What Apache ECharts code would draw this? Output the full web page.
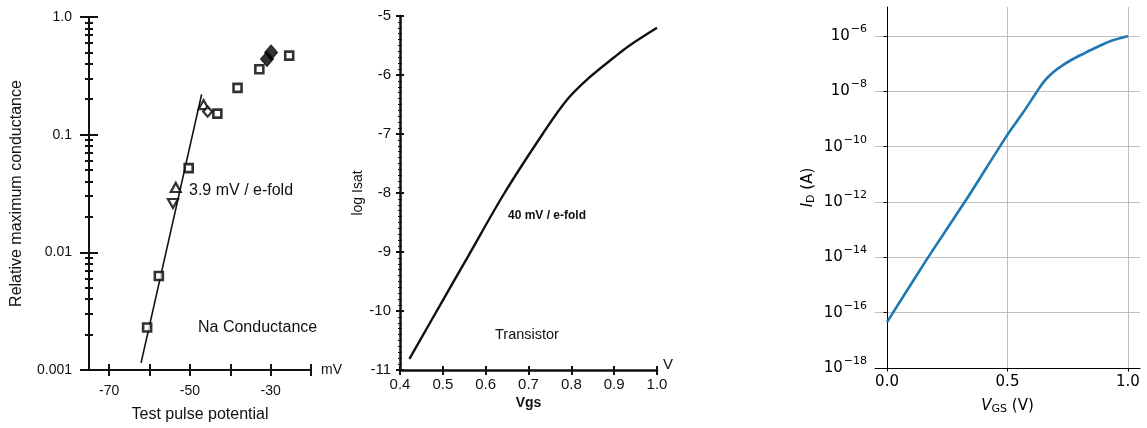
<!DOCTYPE html>
<html><head><meta charset="utf-8">
<script src="https://cdn.jsdelivr.net/npm/echarts@6/dist/echarts.min.js"></script>
<style>html,body{margin:0;padding:0;background:#fff}#c{width:1147px;height:428px}</style>
</head><body><div id="c"></div>
<script>
// ---------- Panel 1: Na conductance ----------
const naSquareV = [-60.6, -57.7, -50.3, -43.2, -38.2, -32.8, -25.4];
const naSquareG = [0.0023, 0.0063, 0.052, 0.151, 0.25, 0.36, 0.47];
const naTriUpV = [-53.5, -46.6];
const naTriUpG = [0.0356, 0.18];
const naTriDownV = [-54.2];
const naTriDownG = [0.026];
const naDiamondV = [-45.6];
const naDiamondG = [0.157];
const naFilledV = [-30.9, -29.9];
const naFilledG = [0.44, 0.50];
const naFitV = [-62.1, -47.1];
const naFitG = [0.00115, 0.22];
const naXTicks = [-70, -60, -50, -40, -30, -20];
const naXLabels = [-70, -50, -30];
const naYMajor = [0.001, 0.01, 0.1, 1];
const naYMajorLabels = ['0.001', '0.01', '0.1', '1.0'];
const naYMinor = [0.002,0.003,0.004,0.005,0.006,0.007,0.008,0.009,
                  0.02,0.03,0.04,0.05,0.06,0.07,0.08,0.09,
                  0.2,0.3,0.4,0.5,0.6,0.7,0.8,0.9];
// ---------- Panel 2: Transistor ----------
const trVgs  = [0.422, 0.5, 0.56, 0.644, 0.733, 0.79, 0.841, 0.9, 0.936, 1.0];
const trLogI = [-10.81, -9.82, -9.06, -8.0, -7.0, -6.42, -6.05, -5.70, -5.50, -5.2];
// ---------- Panel 3: MOSFET I_D ----------
const mosVgs = [0.0, 0.171, 0.327, 0.498, 0.566, 0.61, 0.635, 0.66, 0.691, 0.73, 0.774, 0.815, 0.857, 0.926, 1.0];
const mosId  = [4.57e-17, 1.02e-14, 1.15e-12, 2.57e-10, 1.78e-9, 6.76e-9, 1.45e-8, 2.75e-8, 5.0e-8, 8.9e-8, 1.51e-7, 2.29e-7, 3.47e-7, 6.46e-7, 1.0e-6];
const mosXTicks = [0.0, 0.5, 1.0];
const mosYTicks = [1e-18, 1e-16, 1e-14, 1e-12, 1e-10, 1e-8, 1e-6];

const zip = (a, b) => a.map((v, i) => [v, b[i]]);
const f1 = '"Liberation Sans", Arial, sans-serif';
const f3 = '"DejaVu Sans", sans-serif';
const ink = '#111';

const chart = echarts.init(document.getElementById('c'), null, {renderer: 'canvas'});

const g0 = {left: 89, right: 836, top: 17, bottom: 56};
const g1 = {left: 400, right: 490, top: 16, bottom: 58};
const g2 = {left: 875, right: 7, top: 7, bottom: 60};

function naLabel(v) {
  const i = naYMajor.findIndex(t => Math.abs(Math.log10(t) - Math.log10(v)) < 1e-6);
  return i >= 0 ? naYMajorLabels[i] : '';
}
const noLine = {show: false};
const naYBase = {type: 'log', gridIndex: 0, min: 0.001, max: 1, position: 'left', offset: 0, splitLine: noLine};

const option = {
  animation: false,
  backgroundColor: '#fff',
  grid: [
    Object.assign({containLabel: false}, g0),
    Object.assign({containLabel: false}, g1),
    Object.assign({containLabel: false}, g2)
  ],
  xAxis: [
    {type: 'value', gridIndex: 0, min: -75, max: -20, position: 'bottom',
     axisLine: {show: true, lineStyle: {color: ink, width: 2}},
     axisTick: {show: true, customValues: naXTicks, length: 6, lineStyle: {color: ink, width: 2}},
     axisLabel: {customValues: naXLabels, margin: 14, fontSize: 14, fontFamily: f1, color: ink},
     splitLine: noLine,
     name: 'mV', nameLocation: 'end', nameGap: 10,
     nameTextStyle: {fontSize: 14, fontFamily: f1, color: ink}},
    {type: 'value', gridIndex: 0, min: -75, max: -20, position: 'bottom',
     axisLine: noLine,
     axisTick: {show: true, inside: true, customValues: naXTicks, length: 6, lineStyle: {color: ink, width: 2}},
     axisLabel: {show: false}, splitLine: noLine,
     name: 'Test pulse potential', nameLocation: 'middle', nameGap: 37,
     nameTextStyle: {fontSize: 16, fontFamily: f1, color: ink}},
    {type: 'value', gridIndex: 1, min: 0.4, max: 1.0, interval: 0.1, position: 'bottom',
     axisLine: {show: true, lineStyle: {color: ink, width: 2.5}},
     axisTick: {show: true, length: 5, lineStyle: {color: ink, width: 2}},
     axisLabel: {margin: 7, fontSize: 15, fontFamily: f1, color: ink, formatter: v => v.toFixed(1)},
     splitLine: noLine,
     name: 'V', nameLocation: 'end', nameGap: 6,
     nameTextStyle: {fontSize: 15, fontFamily: f1, color: ink, verticalAlign: 'bottom', padding: [0,0,-2,0]}},
    {type: 'value', gridIndex: 1, min: 0.4, max: 1.0, interval: 0.1, position: 'bottom',
     axisLine: noLine,
     axisTick: {show: true, inside: true, length: 4, lineStyle: {color: ink, width: 2}},
     axisLabel: {show: false}, splitLine: noLine,
     name: 'Vgs', nameLocation: 'middle', nameGap: 26,
     nameTextStyle: {fontSize: 14, fontWeight: 'bold', fontFamily: f1, color: ink}},
    {type: 'value', gridIndex: 2, min: -0.05, max: 1.05, position: 'bottom',
     axisLine: {show: true, lineStyle: {color: '#000', width: 1}},
     axisTick: {show: true, customValues: mosXTicks, length: 3.5, lineStyle: {color: '#000', width: 1}},
     axisLabel: {customValues: mosXTicks, margin: 7, fontSize: 15, fontFamily: f3, color: '#000', formatter: v => v.toFixed(1)},
     splitLine: {show: true, lineStyle: {color: '#b0b0b0', width: 0.8}},
     name: '{i|V}{s|GS}{n| (V)}', nameLocation: 'middle', nameGap: 29,
     nameTextStyle: {rich: {
       i: {fontSize: 15, fontStyle: 'italic', fontFamily: f3, color: '#000'},
       s: {fontSize: 11, fontFamily: f3, color: '#000', padding: [7, 0, 0, 0]},
       n: {fontSize: 15, fontFamily: f3, color: '#000'}}}}
  ],
  yAxis: [
    Object.assign({}, naYBase, {
      axisLine: {show: true, lineStyle: {color: ink, width: 2}},
      axisTick: {show: true, customValues: naYMajor, length: 9, lineStyle: {color: ink, width: 2}},
      axisLabel: {customValues: naYMajor, margin: 17, fontSize: 14, fontFamily: f1, color: ink, formatter: naLabel},
      name: 'Relative maximum conductance', nameLocation: 'middle', nameGap: 64, nameRotate: 90,
      nameTextStyle: {fontSize: 16, fontFamily: f1, color: ink}}),
    Object.assign({}, naYBase, {
      axisLine: noLine,
      axisTick: {show: true, inside: true, customValues: naYMajor, length: 9, lineStyle: {color: ink, width: 2}},
      axisLabel: {show: false}}),
    Object.assign({}, naYBase, {
      axisLine: noLine,
      axisTick: {show: true, customValues: naYMinor, length: 4, lineStyle: {color: ink, width: 2}},
      axisLabel: {show: false}}),
    Object.assign({}, naYBase, {
      axisLine: noLine,
      axisTick: {show: true, inside: true, customValues: naYMinor, length: 4, lineStyle: {color: ink, width: 2}},
      axisLabel: {show: false}}),
    {type: 'value', gridIndex: 1, min: -11, max: -5, interval: 1, position: 'left',
     axisLine: {show: true, lineStyle: {color: ink, width: 2.5}},
     axisTick: {show: true, length: 4, lineStyle: {color: ink, width: 2}},
     minorTick: {show: true, splitNumber: 10, length: 2, lineStyle: {color: ink, width: 1}},
     axisLabel: {margin: 9, fontSize: 15, fontFamily: f1, color: ink},
     splitLine: noLine,
     name: 'log Isat', nameLocation: 'middle', nameGap: 25, nameRotate: 90,
     nameTextStyle: {fontSize: 14, fontFamily: f1, color: ink}},
    {type: 'value', gridIndex: 1, min: -11, max: -5, interval: 1, position: 'left', offset: 0,
     axisLine: noLine,
     axisTick: {show: true, inside: true, length: 4, lineStyle: {color: ink, width: 2}},
     minorTick: {show: true, splitNumber: 10, length: 2, lineStyle: {color: ink, width: 1}},
     axisLabel: {show: false}, splitLine: noLine},
    {type: 'log', gridIndex: 2, min: 1e-18, max: 1.12e-5, position: 'left',
     axisLine: {show: true, lineStyle: {color: '#000', width: 1}},
     axisTick: {show: true, customValues: mosYTicks, length: 3.5, lineStyle: {color: '#000', width: 1}},
     axisLabel: {customValues: mosYTicks, margin: 8,
       formatter: v => '{a|10}{b|\u2212' + Math.round(-Math.log10(v)) + '}',
       rich: {a: {fontSize: 15, fontFamily: f3, color: '#000'},
              b: {fontSize: 11, fontFamily: f3, color: '#000', padding: [0, 0, 14, 1]}}},
     splitLine: {show: true, lineStyle: {color: '#b0b0b0', width: 0.8}},
     name: '{i|I}{s|D}{n| (A)}', nameLocation: 'middle', nameGap: 58, nameRotate: 90,
     nameTextStyle: {rich: {
       i: {fontSize: 15, fontStyle: 'italic', fontFamily: f3, color: '#000'},
       s: {fontSize: 11, fontFamily: f3, color: '#000', padding: [7, 0, 0, 0]},
       n: {fontSize: 15, fontFamily: f3, color: '#000'}}}}
  ],
  series: [
    {type: 'line', xAxisIndex: 0, yAxisIndex: 0, data: zip(naFitV, naFitG), showSymbol: false,
     lineStyle: {color: ink, width: 1.6}, z: 1},
    {type: 'scatter', xAxisIndex: 0, yAxisIndex: 0, data: zip(naSquareV, naSquareG), symbol: 'rect', symbolSize: 8,
     itemStyle: {color: '#fff', borderColor: '#000', borderWidth: 2.6}, z: 3},
    {type: 'scatter', xAxisIndex: 0, yAxisIndex: 0, data: zip(naTriUpV, naTriUpG), symbol: 'triangle', symbolSize: [10, 9],
     itemStyle: {color: '#fff', borderColor: '#000', borderWidth: 2.2}, z: 3},
    {type: 'scatter', xAxisIndex: 0, yAxisIndex: 0, data: zip(naTriDownV, naTriDownG), symbol: 'triangle', symbolRotate: 180, symbolSize: [10, 9],
     itemStyle: {color: '#fff', borderColor: '#000', borderWidth: 2.2}, z: 3},
    {type: 'scatter', xAxisIndex: 0, yAxisIndex: 0, data: zip(naDiamondV, naDiamondG), symbol: 'diamond', symbolSize: [9, 10],
     itemStyle: {color: '#fff', borderColor: '#000', borderWidth: 2.2}, z: 3},
    {type: 'scatter', xAxisIndex: 0, yAxisIndex: 0, data: zip(naFilledV, naFilledG), symbol: 'diamond', symbolSize: [13, 15],
     itemStyle: {color: '#000', borderColor: '#000', borderWidth: 1}, z: 3},
    {type: 'line', xAxisIndex: 2, yAxisIndex: 4, data: zip(trVgs, trLogI), showSymbol: false, smooth: 0.35,
     lineStyle: {color: ink, width: 2.4}},
    {type: 'line', xAxisIndex: 4, yAxisIndex: 6, data: zip(mosVgs, mosId), showSymbol: false, smooth: 0.25,
     lineStyle: {color: '#1f77b4', width: 2.6}}
  ],
  graphic: [
    {type: 'text', left: 189, top: 183, style: {text: '3.9 mV / e-fold', font: '16px ' + f1, fill: ink}},
    {type: 'text', left: 198, top: 320, style: {text: 'Na Conductance', font: '16px ' + f1, fill: ink}},
    {type: 'text', left: 508, top: 210, style: {text: '40 mV / e-fold', font: 'bold 12px ' + f1, fill: ink}},
    {type: 'text', left: 495, top: 327, style: {text: 'Transistor', font: '14.5px ' + f1, fill: ink}}
  ]
};
chart.setOption(option);
</script>
</body></html>
